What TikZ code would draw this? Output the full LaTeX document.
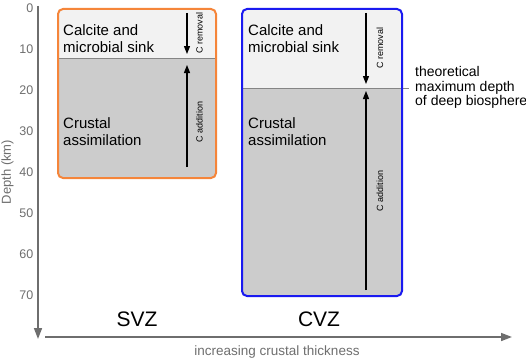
\documentclass[tikz,border=0pt]{standalone}
\usepackage{fontspec}
\setmainfont{Liberation Sans}
\usetikzlibrary{arrows.meta}
\definecolor{AxisGrey}{HTML}{6E6E6E}
\definecolor{SinkFill}{HTML}{F2F2F2}
\definecolor{CrustFill}{HTML}{CCCCCC}
\definecolor{LimitGrey}{HTML}{858585}
\definecolor{SvzOrange}{HTML}{F5853A}
\definecolor{CvzBlue}{HTML}{1A1AF0}

\tikzset{
  boxtext/.style={anchor=north west, inner sep=0pt, align=left,
    font=\fontsize{15}{17}\selectfont},
  fluxlabel/.style={rotate=90, inner sep=0pt, font=\fontsize{9}{10}\selectfont},
  flux/.style={line width=1.2pt, -{Triangle[length=8pt,width=6pt]}},
  axisline/.style={AxisGrey, line width=1.6pt, -{Triangle[length=11pt,width=8pt]}},
  zonelabel/.style={inner sep=0pt, font=\fontsize{21}{24}\selectfont}
}

\begin{document}
\begin{tikzpicture}[x=1pt,y=-1pt,>=Latex]
  \useasboundingbox (0,0) rectangle (526,361);

  % axes
  \coordinate (ytop) at (38,6);
  \coordinate (ybot) at (38,339);
  \coordinate (xleft) at (45,337);
  \coordinate (xright) at (512,337);
  \draw[axisline] (ytop) -- (ybot);
  \draw[axisline] (xleft) -- (xright);
  \foreach \d in {0,10,...,70} {
    \node[anchor=east, inner sep=0pt, text=AxisGrey,
      font=\fontsize{12.5}{14}\selectfont] (tick\d) at (33.5,8.5+4.1*\d) {\d};
  }
  \node[rotate=90, text=AxisGrey, inner sep=0pt,
    font=\fontsize{13}{15}\selectfont] (depth) at (7.5,172) {Depth (km)};
  \node[text=AxisGrey, inner sep=0pt,
    font=\fontsize{13.5}{15}\selectfont] (thick) at (277,352) {increasing crustal thickness};

  % SVZ column
  \begin{scope}
    \clip[rounded corners=5pt] (58,9) rectangle (216,178);
    \fill[SinkFill] (58,9) rectangle (216,58);
    \fill[CrustFill] (58,58) rectangle (216,178);
  \end{scope}
  \draw[LimitGrey, line width=0.8pt] (58,58) -- (216,58);
  \draw[SvzOrange, line width=2pt, rounded corners=5pt] (58,9) rectangle (216,178);
  \node[boxtext] (svzsink) at (63,24.5) {Calcite and\\microbial sink};
  \node[boxtext] (svzcrust) at (63,117.5) {Crustal\\assimilation};
  \coordinate (svzrA) at (187,13);
  \coordinate (svzrB) at (187,54);
  \coordinate (svzaA) at (187,167);
  \coordinate (svzaB) at (187,65);
  \draw[flux] (svzrA) -- (svzrB);
  \draw[flux] (svzaA) -- (svzaB);
  \node[fluxlabel] (svzrem) at (199.5,33) {C removal};
  \node[fluxlabel] (svzadd) at (199.5,122) {C addition};
  \node[zonelabel] (svz) at (137,319.5) {SVZ};

  % CVZ column
  \begin{scope}
    \clip[rounded corners=5pt] (242,9) rectangle (402,296);
    \fill[SinkFill] (242,9) rectangle (402,88);
    \fill[CrustFill] (242,88) rectangle (402,296);
  \end{scope}
  \coordinate (limitEnd) at (409,88);
  \draw[LimitGrey, line width=0.8pt] (242,88) -- (limitEnd);
  \draw[CvzBlue, line width=2pt, rounded corners=5pt] (242,9) rectangle (402,296);
  \node[boxtext] (cvzsink) at (248,24.5) {Calcite and\\microbial sink};
  \node[boxtext] (cvzcrust) at (248,117.5) {Crustal\\assimilation};
  \coordinate (cvzrA) at (366,13);
  \coordinate (cvzrB) at (366,84);
  \coordinate (cvzaA) at (366,290);
  \coordinate (cvzaB) at (366,91);
  \draw[flux] (cvzrA) -- (cvzrB);
  \draw[flux] (cvzaA) -- (cvzaB);
  \node[fluxlabel] (cvzrem) at (380,48) {C removal};
  \node[fluxlabel] (cvzadd) at (380,191) {C addition};
  \node[zonelabel] (cvz) at (319,319.5) {CVZ};

  \node[anchor=north west, inner sep=0pt, align=left,
    font=\fontsize{14}{14.8}\selectfont] (limit) at (415,66)
    {theoretical\\maximum depth\\of deep biosphere};
\end{tikzpicture}
\end{document}
